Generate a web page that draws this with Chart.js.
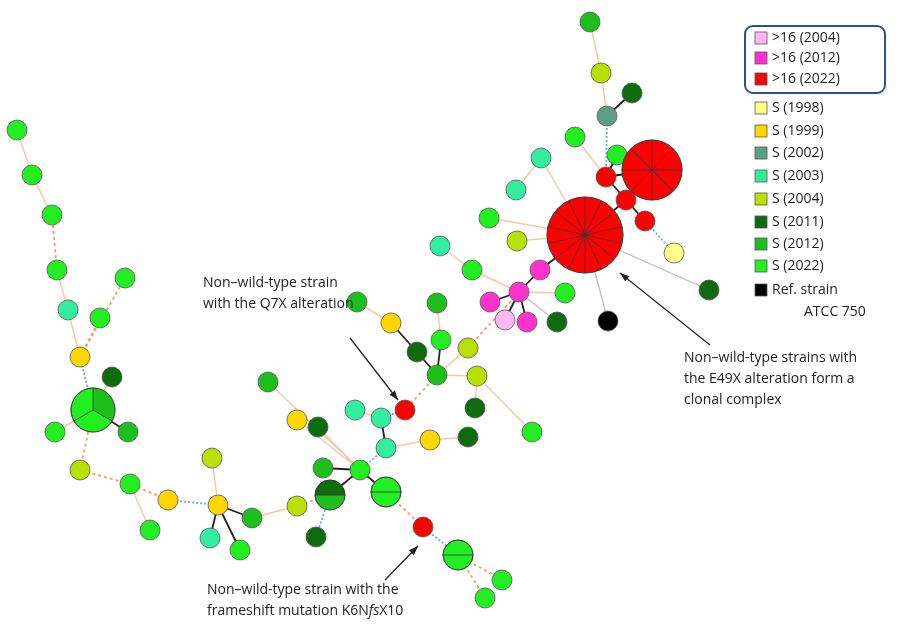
<!DOCTYPE html>
<html><head><meta charset="utf-8">
<script src="https://cdn.jsdelivr.net/npm/chart.js@4"></script>
<style>html,body{margin:0;padding:0;background:#fff}#w{width:900px;height:638px}</style>
</head><body><div id="w"><canvas id="c"></canvas></div>
<script>
// Node data (network layout coordinates, group, radius, sector count)
const nodeX=[590,601,632,607,617,575,606,652,626,645,585,674,709,541,516,489,517,440,540,519,490,505,527,557,565,608,472,437,441,468,437,417,391,357,477,475,532,405,381,386,355,430,468,360,386,330,316,323,297,252,240,218,210,212,268,297,318,423,458,502,485,17,32,52,57,68,100,125,80,112,93,128,55,80,130,168,150];
const nodeY=[22,73,93,116,155,137,177,170,200,221,235,253,290,158,190,218,241,246,270,292,302,320,322,322,293,321,270,303,340,348,375,352,323,302,376,408,432,410,418,448,410,440,437,470,492,495,537,468,506,518,550,505,538,458,382,420,427,527,555,580,598,130,175,215,270,310,318,278,357,377,410,432,432,470,484,500,530];
const nodeGroup=["g12","g04","g11","g02","g22","g22","r22","r22","r22","r22","r22","g98","g11","g03","g03","g22","g04","g03","m12","m12","m12","p04","m12","g11","g22","ref","g22","g12","g22","g04","g12","g11","g99","g12","g04","g11","g22","r22","g03","g03","g03","g99","g11","g22","g22","g12","g11","g12","g04","g12","g22","g99","g03","g04","g12","g99","g11","r22","g22","g22","g22","g22","g22","g22","g22","g03","g22","g22","g99","g11","g22","g12","g22","g04","g22","g99","g22"];
const nodeSize=[10,10,10,10,10,10,10,30,10,10,38,10,10,10,10,10,10,10,10,10,10,10,10,10,10,10,10,10,10,10,10,10,10,10,10,10,10,10,10,10,10,10,10,10,15,15,10,10,10,10,10,10,10,10,10,10,10,10,15,10,10,10,10,10,10,10,10,10,10,10,22,10,10,10,10,10,10];
const nodeSectors={7:8,10:14,44:2,45:2,58:2,70:3};
const edgeFrom=[0,1,2,3,4,5,6,6,7,8,8,9,10,10,13,10,10,10,18,19,19,19,19,19,10,19,17,19,29,27,28,30,31,32,30,34,34,30,37,38,38,39,41,39,43,43,43,45,45,48,49,51,51,51,43,43,43,44,57,58,58,51,75,74,74,73,70,70,70,70,68,68,68,65,64,63,62];
const edgeTo=[1,3,3,6,6,6,7,8,8,9,10,11,12,13,14,15,16,18,19,20,21,22,23,24,25,26,26,29,30,28,30,31,32,33,34,35,36,37,38,39,40,41,42,43,44,45,47,46,48,49,51,50,52,53,54,55,56,57,58,59,60,75,74,76,73,70,71,72,69,68,66,67,65,64,63,62,61];
const edgeStyle=["lo","lo","k","b","k","lo","k","k","k","k","k","b","g","lo","lo","lo","lo","k","k","k","k","k","g","lo","g","lo","lo","o","lo","lo","k","k","k","lo","lo","lo","lo","o","b","k","lo","lo","lo","b","k","k","k","b","o","lo","k","k","k","lo","lo","lo","lo","o","b","o","o","b","o","lo","o","o","k","lo","lo","b","o","o","lo","lo","o","lo","lo"];
const legendLabels=[">16 (2004)",">16 (2012)",">16 (2022)","S (1998)","S (1999)","S (2002)","S (2003)","S (2004)","S (2011)","S (2012)","S (2022)","Ref. strain"];
const legendGroups=["p04","m12","r22","g98","g99","g02","g03","g04","g11","g12","g22","ref"];

const colors={p04:"#ffb8f5",m12:"#ff33cc",r22:"#ff0000",g98:"#ffff88",g99:"#ffd700",g02:"#5f9e86",g03:"#33eea0",g04:"#b8e000",g11:"#0e6b0e",g12:"#1cbf1c",g22:"#22ee22",ref:"#000000"};
const edgeCfg={k:{c:"#222",w:1.8,d:[]},lo:{c:"#f5c8a8",w:1.5,d:[]},o:{c:"#f0a060",w:1.8,d:[3,3]},b:{c:"#6aa6e0",w:1.8,d:[2,2]},g:{c:"#bbbbbb",w:1.2,d:[]}};

const datasets=[];
datasets.push({type:'scatter',data:nodeX.map((x,i)=>({x,y:nodeY[i]})),pointRadius:nodeSize,pointHoverRadius:nodeSize,
 backgroundColor:nodeGroup.map(g=>colors[g]),borderColor:"#555",borderWidth:0.8});
edgeFrom.forEach((f,i)=>{const t=edgeTo[i],s=edgeCfg[edgeStyle[i]];
 datasets.push({type:'scatter',showLine:true,data:[{x:nodeX[f],y:nodeY[f]},{x:nodeX[t],y:nodeY[t]}],borderColor:s.c,borderWidth:s.w,borderDash:s.d,pointRadius:0});});

const overlay={id:'overlay',afterDatasetsDraw(ch){
 const ctx=ch.ctx,xs=ch.scales.x,ys=ch.scales.y;
 ctx.save();
 for(const k in nodeSectors){const n=nodeSectors[k],cx=xs.getPixelForValue(nodeX[k]),cy=ys.getPixelForValue(nodeY[k]),r=nodeSize[k];
  if(k==45){ctx.fillStyle=colors.g11;ctx.beginPath();ctx.moveTo(cx,cy);ctx.arc(cx,cy,r,Math.PI,2*Math.PI);ctx.fill();}
  if(k==70){ctx.fillStyle=colors.g12;ctx.beginPath();ctx.moveTo(cx,cy);ctx.arc(cx,cy,r,-Math.PI/2,Math.PI/6);ctx.fill();}
  ctx.strokeStyle="#333";ctx.lineWidth=0.8;
  for(let j=0;j<n;j++){const a=-Math.PI/2+j*2*Math.PI/n+(n==2?Math.PI/2:0);ctx.beginPath();ctx.moveTo(cx,cy);ctx.lineTo(cx+r*Math.cos(a),cy+r*Math.sin(a));ctx.stroke();}
  ctx.beginPath();ctx.arc(cx,cy,r,0,2*Math.PI);ctx.stroke();}
 ctx.strokeStyle="#2b4f9a";ctx.lineWidth=2;ctx.beginPath();ctx.roundRect(745,26,140,67,8);ctx.stroke();
 ctx.font="14px 'Open Sans'";ctx.textBaseline="middle";
 const ly=[38,58,79,108,131,153,176,199,222,244,266,290];
 legendLabels.forEach((t,i)=>{ctx.fillStyle=colors[legendGroups[i]];ctx.fillRect(755,ly[i]-6,12,12);ctx.strokeStyle="#555";ctx.lineWidth=0.8;ctx.strokeRect(755,ly[i]-6,12,12);ctx.fillStyle="#222";ctx.fillText(t,772,ly[i]);});
 ctx.fillText("ATCC 750",804,312);
 const txt=(lines,x,y)=>lines.forEach((l,i)=>ctx.fillText(l,x,y+i*21));
 txt(["Non–wild-type strain","with the Q7X alteration"],203,283);
 txt(["Non–wild-type strains with","the E49X alteration form a","clonal complex"],684,358);
 ctx.fillText("Non–wild-type strain with the",207,590);
 let x0=207;const parts=[["frameshift mutation K6N",""],["fs","italic "],["X10",""]];
 parts.forEach(p=>{ctx.font=p[1]+"14px 'Open Sans'";ctx.fillText(p[0],x0,611);x0+=ctx.measureText(p[0]).width;});
 const arrow=(x1,y1,x2,y2)=>{ctx.strokeStyle="#222";ctx.fillStyle="#222";ctx.lineWidth=1.3;ctx.beginPath();ctx.moveTo(x1,y1);ctx.lineTo(x2,y2);ctx.stroke();
  const a=Math.atan2(y2-y1,x2-x1);ctx.beginPath();ctx.moveTo(x2,y2);ctx.lineTo(x2-10*Math.cos(a-0.35),y2-10*Math.sin(a-0.35));ctx.lineTo(x2-10*Math.cos(a+0.35),y2-10*Math.sin(a+0.35));ctx.closePath();ctx.fill();};
 arrow(350,338,398,400);arrow(710,345,620,273);arrow(385,580,418,546);
 ctx.restore();}};

new Chart(document.getElementById('c'),{type:'scatter',data:{datasets},plugins:[overlay],
 options:{responsive:true,maintainAspectRatio:false,animation:false,layout:{padding:0,autoPadding:false},
  plugins:{legend:{display:false},tooltip:{enabled:false}},
  scales:{x:{type:'linear',min:0,max:900,display:false},y:{type:'linear',min:0,max:638,reverse:true,display:false}}}});
</script></body></html>
